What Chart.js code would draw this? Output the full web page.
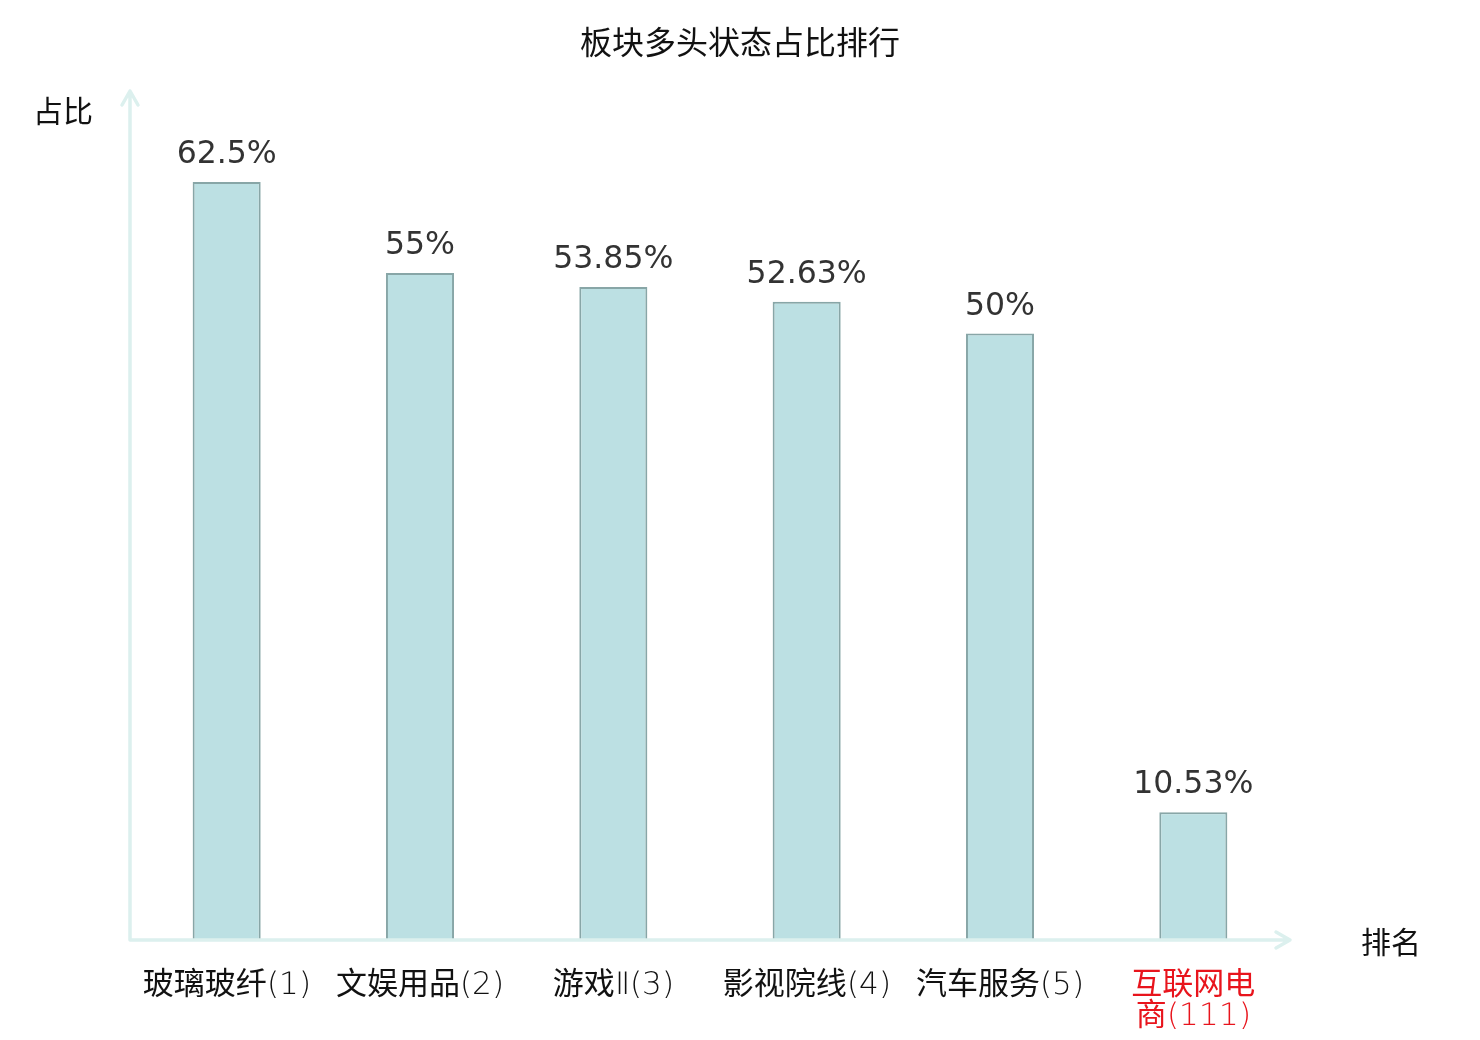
<!DOCTYPE html>
<html>
<head>
<meta charset="utf-8">
<script src="https://cdn.jsdelivr.net/npm/chart.js@4"></script>
<style>
html,body{margin:0;padding:0;background:#fff;}
#wrap{width:1480px;height:1040px;position:relative;}
@font-face {
  font-family: "DVLight";
  src: local("DejaVu Sans ExtraLight"), local("DejaVuSans-ExtraLight"), local("DejaVu Sans Light");
  unicode-range: U+0000-024F, U+2160-216F;
}
</style>
</head>
<body>
<div id="wrap"><canvas id="c" width="1480" height="1040"></canvas></div>
<script>
const categories = [["玻璃玻纤(1)"], ["文娱用品(2)"], ["游戏Ⅱ(3)"], ["影视院线(4)"], ["汽车服务(5)"], ["互联网电", "商(111)"]];
const values = [62.5, 55, 53.85, 52.63, 50, 10.53];
const valueLabels = ["62.5%", "55%", "53.85%", "52.63%", "50%", "10.53%"];
const labelColors = ["#111111", "#111111", "#111111", "#111111", "#111111", "#e8141c"];
const titleText = "板块多头状态占比排行";
const yAxisName = "占比";
const xAxisName = "排名";

const CJK = '"Noto Sans CJK SC", "DejaVu Sans", sans-serif';
const TICKFONT = '"DVLight", "Noto Sans CJK SC", sans-serif';
const AXIS_COLOR = '#dcf0ee';

const decor = {
  id: 'decor',
  afterDatasetsDraw(chart) {
    const ctx = chart.ctx;
    const a = chart.chartArea;
    ctx.save();
    ctx.strokeStyle = AXIS_COLOR;
    ctx.lineWidth = 3.5;
    ctx.lineCap = 'round';
    ctx.lineJoin = 'round';
    ctx.beginPath();
    ctx.moveTo(a.left, a.bottom);
    ctx.lineTo(a.left, a.top);
    ctx.moveTo(a.left - 8, a.top + 14);
    ctx.lineTo(a.left, a.top);
    ctx.lineTo(a.left + 8, a.top + 14);
    ctx.moveTo(a.left, a.bottom);
    ctx.lineTo(a.right, a.bottom);
    ctx.moveTo(a.right - 14, a.bottom - 8);
    ctx.lineTo(a.right, a.bottom);
    ctx.lineTo(a.right - 14, a.bottom + 8);
    ctx.stroke();
    ctx.fillStyle = '#111';
    ctx.font = '32px ' + CJK;
    ctx.textAlign = 'center';
    ctx.textBaseline = 'middle';
    ctx.fillText(titleText, chart.width / 2, 42);
    ctx.font = '30px ' + CJK;
    ctx.fillText(yAxisName, 63, 111);
    ctx.fillText(xAxisName, 1391, 942);
    const meta = chart.getDatasetMeta(0);
    ctx.fillStyle = '#333';
    ctx.font = '31.5px "DejaVu Sans", sans-serif';
    ctx.textBaseline = 'alphabetic';
    meta.data.forEach((bar, i) => {
      ctx.fillText(valueLabels[i], bar.x, bar.y - 19);
    });
    ctx.restore();
  }
};

function build() {
  new Chart(document.getElementById('c'), {
    type: 'bar',
    data: {
      labels: categories,
      datasets: [{
        data: values,
        backgroundColor: '#bce0e3',
        borderColor: '#88a6a7',
        borderWidth: 2,
        barPercentage: 0.352,
        categoryPercentage: 1.0
      }]
    },
    options: {
      responsive: false,
      animation: false,
      devicePixelRatio: 1,
      layout: { padding: { left: 130, right: 190, top: 91, bottom: 0 } },
      plugins: { legend: { display: false }, tooltip: { enabled: false }, title: { display: false } },
      scales: {
        y: { display: false, min: 0, max: 70 },
        x: {
          grid: { display: false },
          border: { display: false },
          ticks: {
            color: (ctx) => labelColors[ctx.index],
            font: { size: 31, family: TICKFONT, lineHeight: 1.0 },
            padding: 22,
            maxRotation: 0,
            autoSkip: false
          },
          afterFit(scale) { scale.height = 100; }
        }
      }
    },
    plugins: [decor]
  });
}

Promise.all([
  document.fonts.load('31px DVLight', '(1)'),
  document.fonts.load('31px "Noto Sans CJK SC"', '玻璃')
]).then(build, build);
</script>
</body>
</html>
